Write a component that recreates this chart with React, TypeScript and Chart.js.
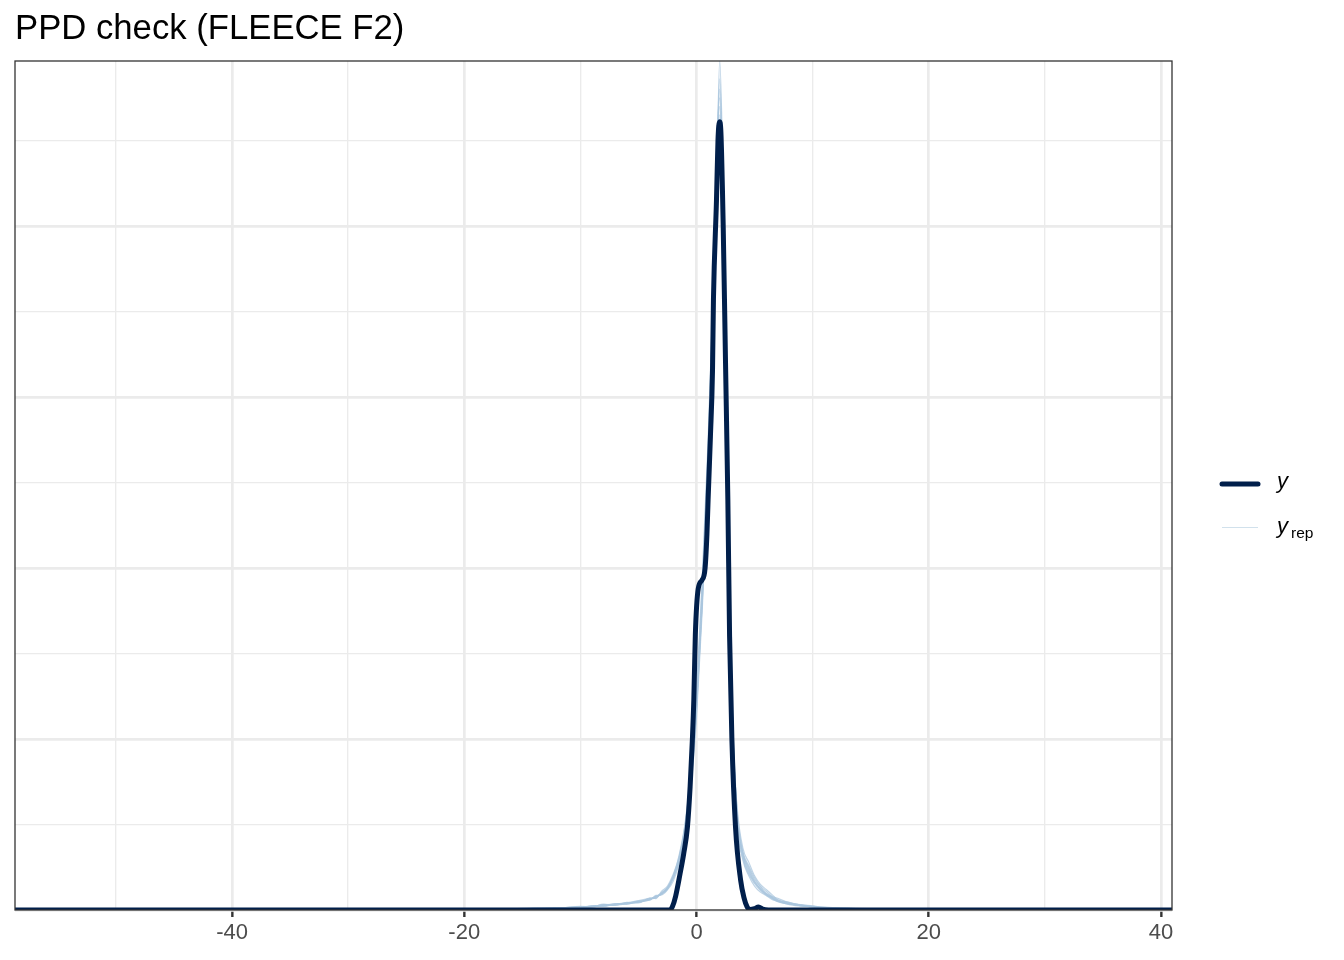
import React, { useEffect, useRef } from "react";
import { Chart, registerables } from "chart.js";

Chart.register(...registerables);

const titleText = "PPD check (FLEECE F2)";
const xMin = -58.69;
const xMax = 40.95;
const yMax = 0.4965;

// observed density (y)
const xObs = [-58.69, -10, -5, -3, -2.3, -2.07, -1.8, -1.42, -1.1, -0.78, -0.55, -0.36, -0.23, -0.1, 0.15, 0.48, 0.74, 0.9, 1.0, 1.2, 1.38, 1.46, 1.72, 1.85, 1.98, 2.1, 2.3, 2.5, 2.7, 2.85, 3.05, 3.36, 3.8, 4.1, 4.35, 4.6, 5.0, 5.34, 5.7, 6.2, 10, 40.95];
const yObs = [0, 0, 0, 0, 0, 0.002, 0.008, 0.021, 0.033, 0.0485, 0.072, 0.099, 0.123, 0.161, 0.188, 0.193, 0.2, 0.22, 0.24, 0.277, 0.316, 0.357, 0.415, 0.45, 0.461, 0.455, 0.4, 0.32, 0.24, 0.16, 0.0994, 0.0485, 0.0175, 0.007, 0.002, 0.0003, 0.0008, 0.0018, 0.0005, 0, 0, 0];

// replicated densities (y_rep)
const xRep = [-58.69, -35, -28, -24, -20, -17, -14, -12, -10, -9, -8, -7, -6, -5, -4, -3.5, -3, -2.5, -2, -1.5, -1, -0.5, 0, 0.5, 1, 1.5, 1.75, 2, 2.25, 2.5, 2.75, 3, 3.5, 4, 4.5, 5, 5.5, 6, 6.5, 7, 8, 9, 10, 11, 13, 16, 20, 25, 30, 35, 40.95];
const yRep1 = [0, 0, 0, 0.0002, 0.0004, 0.0006, 0.0009, 0.0012, 0.0016, 0.0022, 0.0028, 0.0032, 0.0038, 0.0048, 0.0062, 0.0078, 0.0095, 0.0125, 0.019, 0.029, 0.046, 0.074, 0.118, 0.182, 0.262, 0.365, 0.43, 0.497, 0.44, 0.335, 0.222, 0.13, 0.054, 0.031, 0.022, 0.016, 0.012, 0.009, 0.007, 0.005, 0.0036, 0.0026, 0.0018, 0.0012, 0.0008, 0.0004, 0.0002, 0.0001, 0, 0, 0];
const yRep2 = [0, 0, 0.0001, 0.0003, 0.0006, 0.0005, 0.0011, 0.0009, 0.0021, 0.0018, 0.0034, 0.0027, 0.0045, 0.0041, 0.0071, 0.0066, 0.011, 0.014, 0.021, 0.031, 0.049, 0.079, 0.124, 0.19, 0.27, 0.37, 0.435, 0.48, 0.43, 0.325, 0.215, 0.125, 0.058, 0.034, 0.026, 0.019, 0.014, 0.011, 0.008, 0.0068, 0.0042, 0.0031, 0.0024, 0.0015, 0.0011, 0.0006, 0.0003, 0.0002, 0.0001, 0, 0];
const yRep3 = [0, 0, 0, 0.0001, 0.0002, 0.0004, 0.0006, 0.0014, 0.0012, 0.0025, 0.0022, 0.0038, 0.0033, 0.0052, 0.0058, 0.0085, 0.0088, 0.0118, 0.017, 0.027, 0.043, 0.07, 0.112, 0.176, 0.255, 0.36, 0.445, 0.475, 0.42, 0.33, 0.225, 0.135, 0.051, 0.029, 0.02, 0.014, 0.0105, 0.0085, 0.0062, 0.0052, 0.0031, 0.0022, 0.0021, 0.001, 0.0007, 0.0003, 0.0001, 0, 0, 0, 0];
const yRep4 = [0, 0, 0, 0, 0.0003, 0.0007, 0.0005, 0.0011, 0.0018, 0.0016, 0.003, 0.0035, 0.0042, 0.0055, 0.0068, 0.0072, 0.0102, 0.0132, 0.02, 0.032, 0.05, 0.08, 0.127, 0.195, 0.275, 0.375, 0.44, 0.47, 0.415, 0.32, 0.21, 0.122, 0.06, 0.036, 0.028, 0.02, 0.015, 0.012, 0.009, 0.006, 0.0045, 0.0028, 0.0022, 0.0017, 0.001, 0.0005, 0.0004, 0.0001, 0, 0, 0];
const yRep5 = [0, 0, 0, 0.0002, 0.0003, 0.0005, 0.0008, 0.001, 0.0014, 0.002, 0.0026, 0.0029, 0.0036, 0.0046, 0.006, 0.0081, 0.0092, 0.0122, 0.0185, 0.028, 0.045, 0.073, 0.116, 0.18, 0.26, 0.36, 0.425, 0.465, 0.425, 0.33, 0.225, 0.132, 0.056, 0.033, 0.024, 0.017, 0.0125, 0.0095, 0.0075, 0.0055, 0.0038, 0.0024, 0.0019, 0.0014, 0.0009, 0.0005, 0.0002, 0.0001, 0, 0, 0];
const yRep6 = [0, 0, 0.0001, 0.0001, 0.0005, 0.0004, 0.001, 0.0013, 0.0015, 0.0024, 0.0021, 0.0034, 0.004, 0.0044, 0.0065, 0.007, 0.0098, 0.0128, 0.0195, 0.03, 0.047, 0.076, 0.12, 0.185, 0.265, 0.37, 0.45, 0.46, 0.41, 0.315, 0.208, 0.12, 0.052, 0.03, 0.021, 0.0155, 0.0115, 0.0088, 0.0068, 0.0049, 0.0034, 0.0027, 0.0016, 0.0013, 0.0008, 0.0006, 0.0002, 0.0001, 0, 0, 0];
const yRep7 = [0, 0, 0, 0.0002, 0.0004, 0.0006, 0.0007, 0.0012, 0.0017, 0.0019, 0.0027, 0.0031, 0.0039, 0.005, 0.0064, 0.0076, 0.0094, 0.0124, 0.0188, 0.0285, 0.0455, 0.073, 0.117, 0.181, 0.262, 0.362, 0.43, 0.455, 0.43, 0.34, 0.23, 0.138, 0.057, 0.033, 0.025, 0.018, 0.0135, 0.0098, 0.0078, 0.0058, 0.004, 0.0029, 0.002, 0.0013, 0.0009, 0.0004, 0.0002, 0.0001, 0, 0, 0];
const yRep8 = [0, 0, 0, 0.0001, 0.0003, 0.0005, 0.0009, 0.0011, 0.0019, 0.0021, 0.0031, 0.0033, 0.0041, 0.0049, 0.0066, 0.0079, 0.01, 0.013, 0.0198, 0.03, 0.048, 0.077, 0.122, 0.187, 0.268, 0.368, 0.438, 0.486, 0.435, 0.33, 0.218, 0.128, 0.055, 0.032, 0.023, 0.0165, 0.0125, 0.0092, 0.0071, 0.0053, 0.0037, 0.0025, 0.0019, 0.0012, 0.0008, 0.0004, 0.0002, 0, 0, 0, 0];
const yRepAll = [yRep1, yRep2, yRep3, yRep4, yRep5, yRep6, yRep7, yRep8];

const FONT = "'Liberation Sans', Arial, sans-serif";
const DARK = "#011f4b";

const panelPlugin = {
  id: "panelBorder",
  afterDatasetsDraw(chart: any) {
    const { ctx, chartArea } = chart;
    ctx.save();
    ctx.strokeStyle = "#333333";
    ctx.lineWidth = 1.3;
    ctx.strokeRect(chartArea.left, chartArea.top, chartArea.right - chartArea.left, chartArea.bottom - chartArea.top);
    // legend keys
    ctx.lineCap = "round";
    ctx.strokeStyle = DARK;
    ctx.lineWidth = 5;
    ctx.beginPath();
    ctx.moveTo(1222, 484);
    ctx.lineTo(1258, 484);
    ctx.stroke();
    ctx.lineCap = "butt";
    ctx.strokeStyle = "#d1e1ec";
    ctx.lineWidth = 1.2;
    ctx.beginPath();
    ctx.moveTo(1222, 527.5);
    ctx.lineTo(1258, 527.5);
    ctx.stroke();
    ctx.restore();
  },
};

export default function App() {
  const ref = useRef<HTMLCanvasElement | null>(null);
  useEffect(() => {
    if (!ref.current) return;
    const datasets: any[] = [
      {
        label: "y",
        data: xObs.map((x, i) => ({ x, y: yObs[i] })),
        borderColor: DARK,
        borderWidth: 5,
        pointRadius: 0,
        fill: false,
        cubicInterpolationMode: "monotone",
        borderCapStyle: "round",
        borderJoinStyle: "round",
      },
      ...yRepAll.map((arr, k) => ({
        label: "yrep" + (k + 1),
        data: xRep.map((x, i) => ({ x, y: arr[i] })),
        borderColor: "rgba(170,198,222,0.75)",
        borderWidth: 1.2,
        pointRadius: 0,
        fill: false,
        cubicInterpolationMode: "monotone",
      })),
    ];
    const chart = new Chart(ref.current, {
      type: "line",
      data: { datasets },
      options: {
        animation: false,
        responsive: false,
        layout: { padding: { left: 15, right: 172, top: 61, bottom: 0 } },
        plugins: { legend: { display: false }, tooltip: { enabled: false }, title: { display: false } },
        scales: {
          x: {
            type: "linear",
            min: xMin,
            max: xMax,
            afterFit: (s: any) => {
              s.height = 50;
            },
            border: { display: false },
            grid: {
              color: (c: any) => "#ebebeb",
              lineWidth: (c: any) => (c.tick && Math.abs(c.tick.value) % 20 === 0 ? 2.7 : 1.35),
              tickColor: (c: any) => (c.tick && Math.abs(c.tick.value) % 20 === 0 ? "#333333" : "rgba(0,0,0,0)"),
              tickWidth: 2.4,
              tickLength: 7,
            },
            ticks: {
              stepSize: 10,
              includeBounds: false,
              autoSkip: false,
              maxRotation: 0,
              padding: 3,
              color: "#4d4d4d",
              font: { family: FONT, size: 22 },
              callback: (v: any) => (Math.abs(v) % 20 === 0 ? String(v) : ""),
            },
          },
          y: {
            type: "linear",
            min: 0,
            max: yMax,
            afterFit: (s: any) => {
              s.width = 0;
            },
            border: { display: false },
            grid: {
              drawTicks: false,
              color: "#ebebeb",
              lineWidth: (c: any) => (c.tick && Math.round(c.tick.value * 100) % 10 === 0 ? 2.7 : 1.35),
            },
            ticks: { display: false, stepSize: 0.05, includeBounds: false },
          },
        },
      },
      plugins: [panelPlugin],
    } as any);
    return () => chart.destroy();
  }, []);

  return (
    <div style={{ position: "absolute", left: 0, top: 0, width: 1344, height: 960, background: "#ffffff", fontFamily: FONT }}>
      <canvas ref={ref} width={1344} height={960} style={{ position: "absolute", left: 0, top: 0, width: 1344, height: 960 }} />
      <div style={{ position: "absolute", left: 15, top: 10, fontSize: 34.7, lineHeight: "34.7px", color: "#000", whiteSpace: "nowrap" }}>{titleText}</div>
      <div style={{ position: "absolute", left: 1277, top: 469.5, fontSize: 22, lineHeight: "22px", fontStyle: "italic", color: "#000", whiteSpace: "nowrap" }}>y</div>
      <div style={{ position: "absolute", left: 1277, top: 514.5, fontSize: 22, lineHeight: "22px", fontStyle: "italic", color: "#000", whiteSpace: "nowrap" }}>y</div>
      <div style={{ position: "absolute", left: 1291, top: 525, fontSize: 15.5, lineHeight: "15.5px", color: "#000", whiteSpace: "nowrap" }}>rep</div>
    </div>
  );
}
